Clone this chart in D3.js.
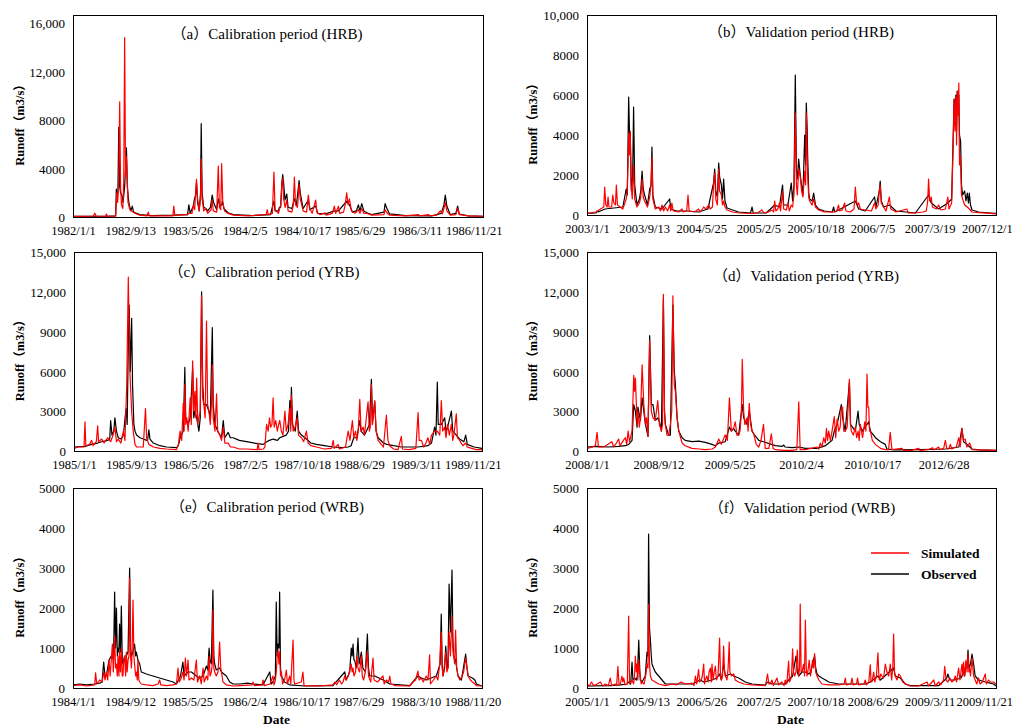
<!DOCTYPE html>
<html>
<head>
<meta charset="utf-8">
<script src="https://cdn.jsdelivr.net/npm/d3@7"></script>
<style>
  html, body { margin: 0; padding: 0; background: #fff; }
  svg { display: block; }
  text { font-family: "Liberation Serif", "Times New Roman", "Noto Sans CJK SC", serif; fill: #000; }
</style>
</head>
<body>
<svg id="chart" width="1014" height="728"></svg>
<script>
// ---------------- DATA ----------------
// x = day index within each period (Excel category axis), y = runoff (m3/s)

// (a) Calibration period (HRB)
const aLabels = ["1982/1/1","1982/9/13","1983/5/26","1984/2/5","1984/10/17","1985/6/29","1986/3/11","1986/11/21"];
const aSim = [[0,50],[90,60],[97,300],[103,60],[145,60],[149,250],[153,60],[190,80],[195,2000],[199,1200],[204,3500],[208,9500],[212,2500],[216,1000],[222,700],[226,3000],[230,14800],[234,3300],[238,5000],[245,1200],[253,600],[268,400],[283,250],[297,150],[330,100],[335,400],[340,100],[400,100],[445,100],[449,900],[453,150],[510,200],[516,300],[530,300],[536,1000],[542,600],[546,2000],[550,3100],[555,1500],[562,500],[568,1500],[571,4800],[575,1500],[582,500],[590,700],[600,300],[615,600],[620,1400],[625,500],[640,400],[647,4200],[652,800],[658,600],[662,4400],[667,1200],[675,500],[690,300],[714,150],[780,100],[860,200],[865,600],[870,200],[888,300],[895,3700],[900,600],[915,300],[925,1000],[930,2600],[934,3200],[938,1500],[945,800],[952,1400],[958,500],[975,400],[981,1000],[986,3300],[991,1000],[1000,800],[1007,2700],[1012,1500],[1025,500],[1040,400],[1048,1800],[1055,700],[1065,300],[1081,1400],[1086,400],[1100,200],[1123,350],[1128,150],[1155,300],[1164,900],[1170,300],[1182,900],[1188,300],[1205,400],[1212,1000],[1219,2000],[1225,1000],[1231,1500],[1240,500],[1255,300],[1262,400],[1271,600],[1278,300],[1286,700],[1295,300],[1309,300],[1330,150],[1385,200],[1390,600],[1398,350],[1410,150],[1480,100],[1539,200],[1545,100],[1584,200],[1590,100],[1620,150],[1630,400],[1636,500],[1645,250],[1652,700],[1658,1200],[1665,500],[1680,150],[1705,200],[1713,700],[1720,200],[1760,100],[1826,60]];
const aObs = [[0,50],[150,60],[190,100],[193,2300],[197,1500],[200,2000],[204,7400],[208,2500],[212,2000],[218,1800],[223,1200],[230,2500],[234,4000],[238,5700],[242,2500],[248,1300],[253,800],[258,500],[264,900],[270,400],[283,300],[297,200],[350,120],[450,150],[510,200],[516,1000],[522,300],[536,900],[540,1400],[546,1800],[550,2800],[555,1200],[562,500],[568,2000],[571,7700],[575,2000],[582,800],[592,700],[600,500],[612,800],[620,1800],[626,1200],[640,600],[647,1500],[655,900],[662,1000],[666,1300],[672,700],[690,350],[714,200],[800,120],[880,200],[890,1000],[895,1300],[900,500],[915,500],[919,800],[925,800],[930,2800],[934,3500],[938,2800],[944,1400],[952,1900],[958,800],[975,700],[986,1500],[995,1000],[1000,1800],[1007,3000],[1012,2000],[1025,700],[1048,1400],[1055,600],[1081,900],[1090,300],[1123,250],[1164,500],[1182,500],[1219,1300],[1231,1000],[1245,400],[1262,500],[1271,1000],[1278,500],[1286,1100],[1295,500],[1309,350],[1330,200],[1385,400],[1390,1100],[1398,700],[1410,250],[1480,120],[1600,100],[1640,300],[1652,1000],[1658,1800],[1665,900],[1680,200],[1705,300],[1713,900],[1720,250],[1760,100],[1826,60]];

// (b) Validation period (HRB)
const bLabels = ["2003/1/1","2003/9/13","2004/5/25","2005/2/5","2005/10/18","2006/7/5","2007/3/19","2007/12/1"];
const bSim = [[0,80],[40,150],[60,300],[75,400],[79,1400],[84,500],[90,400],[94,900],[98,400],[110,400],[115,1000],[120,600],[127,500],[131,1500],[136,500],[160,300],[175,800],[179,1100],[183,2500],[186,4100],[190,3000],[193,4200],[197,1500],[202,800],[208,2500],[213,800],[223,400],[234,600],[240,900],[246,1800],[251,900],[257,700],[270,400],[280,900],[286,1500],[290,2900],[294,800],[305,300],[320,400],[328,200],[335,500],[342,200],[350,400],[360,200],[369,500],[374,200],[379,600],[385,200],[410,150],[424,300],[430,150],[445,200],[451,1000],[456,200],[480,150],[498,300],[505,150],[515,300],[521,400],[530,300],[543,500],[550,300],[560,400],[565,1500],[570,2100],[575,800],[582,500],[588,2300],[592,1200],[600,1000],[605,500],[610,700],[616,400],[625,250],[650,150],[677,100],[737,80],[760,100],[781,250],[790,100],[810,150],[826,250],[833,150],[838,700],[843,200],[852,300],[859,600],[864,200],[873,1200],[878,300],[890,250],[897,600],[903,200],[912,500],[918,400],[924,1000],[930,5100],[935,1500],[939,1000],[945,2300],[952,1900],[958,1200],[964,900],[972,2200],[976,1500],[979,5100],[983,3000],[985,2000],[990,900],[994,700],[1005,500],[1012,800],[1020,400],[1034,250],[1060,150],[1101,150],[1115,200],[1123,500],[1128,200],[1140,250],[1150,600],[1156,200],[1175,150],[1192,300],[1198,1400],[1203,700],[1208,500],[1213,600],[1220,300],[1242,250],[1270,200],[1280,500],[1284,600],[1290,300],[1300,500],[1305,1200],[1309,1500],[1314,600],[1324,400],[1335,200],[1350,900],[1356,300],[1380,150],[1428,300],[1434,100],[1466,100],[1500,150],[1515,200],[1521,700],[1525,1800],[1530,700],[1537,900],[1542,400],[1560,300],[1570,500],[1580,250],[1600,300],[1611,900],[1616,300],[1628,600],[1635,3500],[1639,5800],[1643,4200],[1647,5900],[1650,3500],[1653,6200],[1657,5000],[1660,6600],[1663,2500],[1666,3000],[1668,2500],[1672,1000],[1677,800],[1686,500],[1698,400],[1707,300],[1719,150],[1748,120],[1800,80],[1826,60]];
const bObs = [[0,80],[40,100],[45,200],[50,150],[80,300],[120,350],[160,400],[175,1300],[180,1000],[186,5900],[190,4000],[193,4100],[198,1200],[204,2000],[208,5400],[213,1500],[223,500],[234,800],[240,1200],[246,2200],[251,1300],[257,1000],[270,500],[280,1300],[286,1500],[290,3400],[294,1000],[305,400],[335,300],[369,800],[374,300],[400,200],[450,200],[498,150],[540,300],[565,1600],[570,2300],[575,1200],[582,900],[588,2600],[592,1900],[600,1500],[605,800],[610,1800],[616,700],[625,350],[650,250],[677,150],[730,100],[737,400],[742,100],[800,100],[838,500],[859,400],[873,1500],[878,500],[897,500],[912,1600],[918,700],[924,1500],[930,7000],[935,2200],[939,1800],[945,2800],[952,2000],[958,1500],[964,1000],[972,4000],[976,2500],[979,5600],[983,4300],[985,3000],[990,1100],[994,800],[1005,700],[1012,1100],[1020,500],[1034,300],[1060,200],[1095,150],[1101,400],[1106,150],[1198,700],[1213,300],[1242,200],[1284,900],[1290,400],[1305,1200],[1309,1700],[1314,700],[1324,400],[1350,500],[1380,200],[1466,100],[1525,1000],[1537,600],[1570,300],[1611,600],[1628,800],[1635,4000],[1639,5800],[1643,5000],[1647,6000],[1650,4200],[1653,6200],[1657,5200],[1660,6000],[1663,4000],[1668,3700],[1672,1500],[1677,1000],[1686,1200],[1692,700],[1698,1100],[1703,600],[1707,1100],[1712,500],[1719,250],[1748,150],[1800,100],[1826,80]];

// (c) Calibration period (YRB)
const cLabels = ["1985/1/1","1985/9/13","1986/5/26","1987/2/5","1987/10/18","1988/6/29","1989/3/11","1989/11/21"];
const cSim = [[0,200],[20,300],[45,300],[49,2200],[53,400],[70,500],[79,800],[85,400],[100,700],[106,1900],[110,700],[124,900],[135,600],[150,1000],[164,700],[175,1200],[183,1800],[190,700],[198,900],[210,600],[221,1500],[228,800],[236,5000],[243,13100],[247,9000],[250,6000],[258,3000],[265,1500],[273,500],[280,300],[310,300],[320,3200],[325,1000],[335,500],[355,300],[385,200],[414,150],[459,100],[467,500],[475,1500],[482,800],[489,3600],[493,1500],[496,5000],[500,2000],[505,2500],[511,1500],[520,4000],[525,2000],[531,6800],[536,3000],[541,4500],[545,2500],[549,5500],[554,2000],[559,2500],[565,3000],[571,11700],[576,4000],[581,3500],[587,2500],[593,9800],[598,3500],[604,3000],[610,2000],[615,3500],[619,6500],[623,2500],[631,1500],[638,4300],[643,1500],[653,1200],[660,800],[668,1800],[675,600],[690,600],[700,300],[712,300],[740,150],[772,150],[820,100],[824,600],[828,100],[847,150],[854,300],[862,2000],[869,1500],[875,2500],[880,1800],[886,2000],[891,4000],[896,1800],[903,2300],[910,1500],[916,2000],[921,2300],[928,1500],[935,1200],[944,3000],[950,1500],[958,2000],[966,3200],[970,1500],[973,4200],[978,2200],[981,1500],[990,1800],[999,2500],[1005,1200],[1018,1000],[1028,700],[1040,1500],[1048,600],[1060,400],[1085,300],[1120,150],[1152,200],[1160,800],[1165,200],[1182,500],[1188,150],[1215,300],[1227,1500],[1235,800],[1246,2300],[1252,1000],[1260,1500],[1266,800],[1272,1500],[1279,3900],[1285,1500],[1294,1800],[1300,1200],[1309,2600],[1316,3700],[1322,1500],[1328,2000],[1331,5000],[1336,2000],[1346,3800],[1352,1500],[1361,800],[1375,500],[1385,300],[1398,2700],[1405,800],[1413,400],[1430,150],[1450,100],[1465,1100],[1470,150],[1500,100],[1530,200],[1540,2900],[1545,800],[1555,800],[1565,300],[1575,600],[1584,1000],[1592,500],[1600,1200],[1614,1500],[1626,1500],[1637,1200],[1644,3800],[1650,1500],[1659,1800],[1665,1000],[1672,2000],[1680,1200],[1689,2000],[1695,800],[1700,1200],[1711,2800],[1716,1000],[1726,800],[1740,400],[1753,600],[1760,300],[1780,200],[1800,100],[1826,100]];
const cObs = [[0,300],[49,350],[79,500],[106,600],[124,700],[150,800],[160,900],[164,2300],[170,1200],[178,1500],[183,2500],[190,1500],[198,1000],[210,900],[221,1200],[233,3200],[238,2000],[243,8000],[247,11000],[252,6000],[258,10000],[262,5000],[268,2000],[273,1500],[280,1200],[295,1000],[310,900],[325,800],[330,900],[335,1600],[340,900],[355,600],[385,400],[414,300],[459,250],[467,400],[475,1000],[489,1500],[496,6300],[500,2500],[511,2000],[520,2500],[531,6200],[536,2500],[541,3000],[549,2500],[559,1500],[565,2500],[571,12000],[576,5000],[581,3500],[593,3500],[604,3000],[610,2500],[619,9300],[623,3500],[631,2000],[643,1500],[653,1200],[660,1000],[668,2300],[675,1000],[690,1400],[700,1000],[712,1000],[740,800],[772,700],[820,550],[847,500],[862,700],[875,800],[891,900],[910,800],[921,1000],[935,1100],[950,1200],[960,1500],[966,3800],[970,2000],[973,4800],[978,2000],[990,1500],[999,3000],[1005,1500],[1018,1200],[1040,900],[1060,600],[1085,500],[1120,400],[1160,300],[1200,250],[1227,300],[1240,400],[1252,1000],[1266,1000],[1279,2300],[1285,1500],[1300,1200],[1309,1500],[1322,2000],[1331,5400],[1336,2200],[1346,3700],[1352,1500],[1361,1000],[1385,600],[1400,500],[1430,400],[1465,300],[1540,300],[1584,400],[1600,600],[1614,1800],[1620,1200],[1626,5200],[1630,2000],[1637,2000],[1644,2000],[1659,2500],[1665,1500],[1672,1800],[1689,3000],[1695,1500],[1711,1200],[1726,900],[1745,700],[1753,1200],[1760,500],[1790,300],[1826,200]];

// (d) Validation period (YRB)  (2011 absent from the record)
const dLabels = ["2008/1/1","2008/9/12","2009/5/25","2010/2/4","2010/10/17","2012/6/28"];
const dSim = [[0,200],[20,300],[30,400],[36,1400],[41,300],[60,300],[75,500],[89,700],[95,300],[105,600],[113,900],[118,400],[130,800],[137,1000],[142,500],[147,1500],[152,700],[161,1500],[167,5700],[170,4500],[173,5500],[179,2000],[182,3000],[187,1800],[191,2500],[197,6500],[203,3500],[209,2000],[213,2500],[218,1100],[224,8300],[230,3000],[236,2500],[244,2300],[253,3800],[259,2000],[266,1500],[270,2000],[273,11800],[277,3000],[280,2000],[286,1200],[292,1200],[298,2000],[303,3000],[307,11700],[312,5000],[316,4500],[322,2500],[328,1500],[340,600],[351,400],[375,200],[400,150],[423,100],[447,150],[459,300],[471,900],[480,500],[494,1200],[502,800],[509,4000],[516,1500],[524,1700],[530,2200],[536,1200],[542,1200],[547,1500],[552,3000],[555,6900],[560,3000],[564,2000],[572,2500],[576,1500],[580,3600],[585,2000],[590,1500],[596,1300],[605,500],[614,300],[622,800],[631,2000],[637,200],[650,200],[659,1300],[665,200],[673,100],[703,50],[733,50],[750,100],[757,3700],[762,100],[780,100],[822,300],[828,150],[834,600],[840,300],[846,1000],[852,600],[856,1700],[860,800],[864,1500],[870,800],[876,1500],[884,2600],[889,1000],[894,2400],[900,1500],[905,1800],[909,3300],[914,3300],[918,1500],[923,1500],[930,1800],[938,5400],[942,2000],[945,1500],[952,1200],[959,1800],[964,1000],[969,1500],[973,800],[977,2000],[985,1000],[993,2200],[997,1500],[1001,5800],[1004,3300],[1007,3300],[1010,1500],[1013,1500],[1020,800],[1031,500],[1049,200],[1066,100],[1078,100],[1084,1400],[1090,100],[1126,200],[1131,50],[1160,50],[1186,200],[1190,50],[1220,100],[1235,250],[1240,80],[1257,300],[1262,100],[1275,200],[1281,800],[1286,200],[1293,150],[1299,500],[1304,150],[1320,300],[1329,1000],[1334,300],[1340,1700],[1346,800],[1352,900],[1358,300],[1368,600],[1376,100],[1400,80],[1462,50]];
const dObs = [[0,300],[36,350],[75,300],[113,350],[137,400],[149,500],[161,800],[167,3500],[173,3000],[179,1800],[182,3300],[191,2300],[197,4000],[203,3000],[209,2000],[218,1100],[224,8700],[230,3500],[236,3500],[244,2300],[253,2500],[259,2200],[266,1500],[273,11500],[277,3000],[280,2000],[292,1200],[298,1200],[307,11000],[312,6000],[316,5000],[322,2500],[328,1500],[340,1000],[351,800],[375,700],[400,750],[423,650],[447,500],[459,400],[471,600],[494,700],[509,1800],[516,1500],[524,1700],[530,1500],[542,1200],[555,3500],[560,2500],[572,2000],[580,3000],[590,1500],[596,1300],[614,800],[631,700],[659,500],[673,400],[698,350],[703,450],[708,300],[733,250],[757,300],[780,200],[822,200],[852,400],[864,600],[876,800],[884,1500],[894,2000],[909,3500],[914,2500],[923,1500],[938,5200],[942,2000],[959,1500],[969,3000],[973,2000],[985,1500],[993,1800],[1001,2000],[1007,2200],[1013,1500],[1031,1000],[1049,700],[1066,500],[1072,150],[1100,80],[1186,100],[1281,150],[1329,300],[1340,1700],[1346,700],[1352,600],[1368,300],[1376,150],[1400,80],[1462,50]];

// (e) Calibration period (WRB)
const eLabels = ["1984/1/1","1984/9/12","1985/5/25","1986/2/4","1986/10/17","1987/6/29","1988/3/10","1988/11/20"];
const eSim = [[0,60],[30,80],[60,50],[97,80],[101,380],[106,100],[119,200],[130,150],[137,400],[143,200],[149,400],[155,200],[161,700],[166,300],[171,700],[176,1100],[180,400],[186,1300],[190,500],[194,600],[198,300],[201,800],[205,300],[208,900],[212,400],[216,1000],[220,300],[223,300],[227,700],[231,800],[235,300],[238,900],[242,400],[246,700],[250,800],[253,2750],[257,800],[261,500],[264,900],[268,2200],[272,800],[275,600],[280,300],[283,400],[287,200],[290,700],[294,200],[298,150],[305,100],[328,80],[357,60],[380,100],[387,200],[392,80],[417,60],[447,80],[462,100],[469,500],[474,150],[480,200],[486,300],[491,400],[496,200],[502,750],[507,300],[514,700],[518,200],[529,250],[540,200],[551,700],[556,150],[566,300],[573,100],[581,500],[586,150],[596,300],[602,200],[608,800],[612,300],[618,400],[622,600],[625,1950],[629,500],[633,400],[640,300],[648,400],[655,1150],[660,500],[663,400],[670,150],[685,80],[715,50],[745,60],[800,80],[804,150],[810,60],[844,80],[849,200],[855,60],[880,100],[893,300],[898,80],[904,200],[908,400],[912,800],[916,950],[920,600],[923,900],[927,300],[931,400],[936,100],[945,200],[953,450],[958,100],[968,300],[973,100],[983,1200],[987,200],[990,100],[1020,150],[1027,400],[1032,60],[1100,50],[1161,80],[1170,150],[1178,80],[1190,200],[1200,100],[1206,150],[1214,300],[1220,200],[1230,300],[1243,600],[1247,400],[1251,500],[1255,300],[1262,400],[1268,800],[1273,500],[1280,400],[1288,800],[1292,300],[1298,200],[1306,400],[1315,900],[1320,300],[1330,150],[1340,750],[1345,200],[1360,150],[1385,300],[1390,100],[1400,200],[1410,150],[1415,300],[1420,100],[1440,60],[1504,50],[1519,150],[1530,200],[1541,420],[1546,200],[1556,250],[1565,150],[1578,300],[1586,200],[1593,830],[1597,100],[1610,200],[1623,300],[1630,200],[1638,600],[1645,1400],[1649,500],[1653,300],[1660,600],[1665,900],[1670,400],[1675,500],[1680,1400],[1686,800],[1693,1800],[1697,1000],[1700,800],[1705,600],[1709,1450],[1714,500],[1720,300],[1728,200],[1735,250],[1745,400],[1754,750],[1760,500],[1765,300],[1775,200],[1784,150],[1795,100],[1802,60],[1827,50]];
const eObs = [[0,80],[30,100],[60,80],[97,100],[119,120],[130,150],[137,650],[143,300],[149,300],[161,700],[171,800],[176,800],[181,700],[186,2400],[190,1000],[194,2000],[198,800],[201,1000],[205,900],[208,1600],[212,900],[216,2050],[220,700],[223,600],[231,800],[238,800],[246,900],[253,3000],[257,1000],[261,800],[268,900],[275,1100],[280,800],[283,900],[290,700],[298,600],[305,400],[328,350],[357,300],[387,250],[417,200],[447,150],[462,100],[480,300],[491,650],[496,300],[514,400],[529,400],[551,300],[566,250],[581,300],[596,550],[602,450],[608,1000],[612,700],[618,600],[625,2450],[629,800],[633,600],[640,450],[655,500],[663,400],[685,300],[700,150],[715,100],[745,100],[780,120],[804,100],[849,80],[879,400],[885,100],[893,150],[904,300],[908,2150],[912,800],[916,1100],[920,1000],[923,2400],[927,500],[931,300],[945,150],[968,80],[1035,50],[1161,60],[1214,400],[1220,200],[1236,400],[1243,1000],[1247,800],[1251,1100],[1255,700],[1258,700],[1265,500],[1273,1250],[1278,600],[1288,900],[1295,500],[1306,400],[1315,1350],[1320,500],[1325,300],[1348,300],[1385,200],[1415,100],[1504,60],[1541,300],[1556,250],[1578,200],[1600,250],[1623,300],[1640,600],[1645,1850],[1649,600],[1653,300],[1660,500],[1665,1050],[1670,600],[1675,500],[1680,2600],[1686,1400],[1693,2950],[1697,1200],[1700,800],[1709,700],[1714,500],[1720,300],[1735,200],[1754,850],[1760,500],[1765,300],[1784,250],[1795,200],[1802,100],[1827,50]];

// (f) Validation period (WRB)
const fLabels = ["2005/1/1","2005/9/13","2006/5/26","2007/2/5","2007/10/18","2008/6/29","2009/3/11","2009/11/21"];
const fSim = [[0,100],[10,50],[20,150],[30,60],[45,100],[60,150],[70,50],[82,100],[95,60],[104,250],[110,60],[125,100],[132,60],[138,540],[143,80],[149,100],[156,300],[160,150],[164,250],[170,80],[180,100],[186,1800],[190,100],[197,150],[201,200],[208,100],[212,300],[216,800],[220,400],[223,600],[227,200],[231,700],[235,400],[238,300],[242,100],[246,150],[255,100],[262,300],[268,600],[272,500],[275,2100],[279,600],[283,300],[290,200],[305,150],[320,100],[350,60],[379,100],[400,80],[420,150],[440,100],[469,120],[478,60],[484,300],[490,100],[498,460],[503,150],[510,200],[515,300],[521,600],[525,100],[528,200],[535,300],[541,150],[545,400],[551,500],[555,150],[558,600],[563,200],[568,400],[573,550],[578,200],[585,300],[592,1250],[596,300],[600,200],[605,300],[610,1050],[614,400],[618,300],[625,200],[630,500],[635,1150],[638,400],[645,300],[655,350],[662,200],[677,150],[700,100],[737,80],[796,60],[800,150],[806,350],[812,100],[818,100],[826,200],[832,60],[848,250],[855,80],[870,150],[880,60],[885,200],[892,100],[900,670],[904,150],[908,200],[913,300],[918,980],[922,400],[927,300],[933,400],[939,950],[943,400],[945,300],[949,500],[952,2100],[956,400],[960,400],[967,600],[971,300],[975,1700],[979,500],[982,300],[986,400],[992,700],[998,300],[1007,700],[1012,500],[1016,860],[1021,400],[1027,300],[1035,200],[1049,100],[1079,80],[1123,80],[1148,100],[1153,250],[1158,80],[1178,100],[1183,250],[1188,80],[1203,100],[1208,250],[1213,80],[1237,100],[1242,200],[1248,80],[1258,150],[1265,580],[1268,150],[1272,150],[1280,400],[1285,150],[1292,300],[1299,880],[1303,300],[1305,200],[1312,350],[1317,300],[1324,250],[1332,600],[1339,400],[1347,300],[1354,600],[1360,200],[1365,500],[1369,1350],[1373,400],[1376,300],[1384,200],[1392,350],[1399,300],[1410,150],[1421,100],[1443,50],[1480,50],[1518,150],[1525,50],[1548,200],[1555,50],[1570,150],[1580,80],[1592,200],[1597,540],[1603,200],[1611,150],[1620,250],[1629,150],[1638,200],[1644,300],[1650,150],[1659,500],[1665,200],[1674,600],[1678,300],[1681,650],[1686,300],[1692,700],[1697,400],[1701,850],[1705,400],[1708,500],[1712,300],[1719,750],[1726,300],[1733,200],[1740,100],[1748,250],[1755,100],[1765,150],[1778,350],[1783,100],[1793,200],[1800,150],[1815,150],[1826,100]];
const fObs = [[0,50],[100,60],[150,80],[179,100],[186,150],[195,100],[201,650],[205,200],[212,250],[220,200],[225,300],[231,1200],[236,400],[238,200],[246,150],[260,300],[268,900],[272,800],[275,3850],[279,1500],[283,1200],[287,800],[290,600],[297,500],[305,400],[320,300],[335,200],[350,100],[379,100],[469,100],[506,200],[521,150],[558,200],[580,250],[592,350],[600,200],[610,600],[618,300],[640,350],[655,300],[677,250],[707,150],[737,100],[796,70],[806,150],[826,100],[885,100],[900,200],[918,300],[933,800],[939,400],[945,300],[960,400],[975,400],[990,350],[1000,400],[1007,600],[1016,800],[1021,500],[1027,350],[1035,300],[1049,250],[1065,200],[1079,150],[1123,100],[1180,100],[1242,100],[1265,150],[1299,300],[1310,200],[1369,500],[1376,300],[1399,250],[1421,100],[1443,60],[1520,60],[1570,60],[1597,200],[1606,250],[1611,350],[1620,200],[1640,200],[1670,250],[1681,400],[1686,300],[1692,650],[1697,500],[1701,950],[1705,500],[1712,600],[1719,850],[1726,600],[1733,300],[1748,200],[1778,150],[1800,120],[1815,100],[1826,50]];

const titles = ["（a）Calibration period (HRB)","（b）Validation period (HRB)","（c）Calibration period (YRB)","（d）Validation period (YRB)","（e）Calibration period (WRB)","（f）Validation period (WRB)"];
const yMaxes = [16000, 10000, 15000, 15000, 5000, 5000];
const ySteps = [4000, 2000, 3000, 3000, 1000, 1000];
const nDays = [1826, 1826, 1826, 1462, 1827, 1826];
const labelStep = 255;
const seriesNames = ["Simulated", "Observed"];

// ---------------- LAYOUT ----------------
const layout = [
  {l:73,  r:483, t:15,  b:217, yTop:23,  tx:267, ty:39},
  {l:587, r:996, t:15,  b:215, yTop:15,  tx:801, ty:37},
  {l:74,  r:482, t:252, b:451, yTop:252, tx:264, ty:277},
  {l:587, r:996, t:252, b:451, yTop:252, tx:806, ty:281},
  {l:73,  r:482, t:488, b:688, yTop:488, tx:267, ty:512},
  {l:587, r:996, t:488, b:688, yTop:488, tx:802, ty:513}
];
const panels = [
  {sim:aSim, obs:aObs, labels:aLabels},
  {sim:bSim, obs:bObs, labels:bLabels},
  {sim:cSim, obs:cObs, labels:cLabels},
  {sim:dSim, obs:dObs, labels:dLabels},
  {sim:eSim, obs:eObs, labels:eLabels},
  {sim:fSim, obs:fObs, labels:fLabels}
];

const W = 1014;
const svg = d3.select("#chart");
const fmt = v => v >= 10000 ? d3.format(",")(v) : String(v);

panels.forEach((p, i) => {
  const L = layout[i];
  const x = d3.scaleLinear().domain([0, nDays[i]]).range([L.l, L.r]);
  const y = d3.scaleLinear().domain([0, yMaxes[i]]).range([L.b, L.yTop]);
  const g = svg.append("g");

  // lines
  const line = d3.line().x(d => x(d[0])).y(d => y(d[1]));
  g.append("path").datum(p.obs).attr("d", line)
    .attr("fill", "none").attr("stroke", "#000").attr("stroke-width", 1.2).attr("stroke-linejoin", "round");
  g.append("path").datum(p.sim).attr("d", line)
    .attr("fill", "none").attr("stroke", "#ff0000").attr("stroke-width", 1.2).attr("stroke-linejoin", "round");

  // frame
  g.append("rect").attr("x", L.l + 0.5).attr("y", L.t + 0.5)
    .attr("width", L.r - L.l).attr("height", L.b - L.t)
    .attr("fill", "none").attr("stroke", "#000").attr("stroke-width", 1);

  // y axis
  const yTicks = d3.range(0, yMaxes[i] + 1, ySteps[i]);
  const yAxis = d3.axisLeft(y).tickValues(yTicks).tickFormat(fmt).tickSize(0).tickPadding(8);
  const ya = g.append("g").attr("transform", `translate(${L.l},0)`).call(yAxis);
  ya.select(".domain").remove();
  ya.selectAll("text").attr("font-size", 13).attr("font-family", null).attr("dy", "0.36em");

  // x axis
  const xTicks = p.labels.map((_, k) => k * labelStep);
  const xAxis = d3.axisBottom(x).tickValues(xTicks).tickFormat((d, k) => p.labels[k]).tickSize(0).tickPadding(9);
  const xa = g.append("g").attr("transform", `translate(0,${L.b})`).call(xAxis);
  xa.select(".domain").remove();
  xa.selectAll("text").attr("font-size", 12.5).attr("font-family", null);
  // keep edge labels inside the picture
  xa.selectAll(".tick").each(function () {
    const t = d3.select(this).select("text");
    const bb = t.node().getBBox();
    const tx = +d3.select(this).attr("transform").match(/translate\(([-\d.]+)/)[1];
    const overflow = tx + bb.x + bb.width - (W - 1);
    if (overflow > 0) t.attr("x", -overflow);
  });

  // title
  g.append("text").attr("x", L.tx).attr("y", L.ty).attr("text-anchor", "middle")
    .attr("font-size", 15).text(titles[i]);

  // y title
  const yc = (L.t + L.b) / 2 + 6;
  const yx = i % 2 === 0 ? 24 : 537;
  g.append("text").attr("transform", `translate(${yx},${yc}) rotate(-90)`)
    .attr("text-anchor", "middle").attr("font-size", 12.5).attr("font-weight", "bold")
    .text("Runoff（m3/s）");

  if (i >= 4) {
    g.append("text").attr("x", (L.l + L.r) / 2 - 1).attr("y", 724).attr("text-anchor", "middle")
      .attr("font-size", 13.5).attr("font-weight", "bold").text("Date");
  }
});

// legend in panel (f)
const legendColors = ["#ff0000", "#000"];
const lg = svg.append("g").attr("transform", "translate(871,553)");
seriesNames.forEach((name, k) => {
  lg.append("line").attr("x1", 0).attr("x2", 38).attr("y1", k * 21).attr("y2", k * 21)
    .attr("stroke", legendColors[k]).attr("stroke-width", 1.5);
  lg.append("text").attr("x", 50).attr("y", k * 21 + 5).attr("font-size", 13.5)
    .attr("font-weight", "bold").text(name);
});
</script>
</body>
</html>
